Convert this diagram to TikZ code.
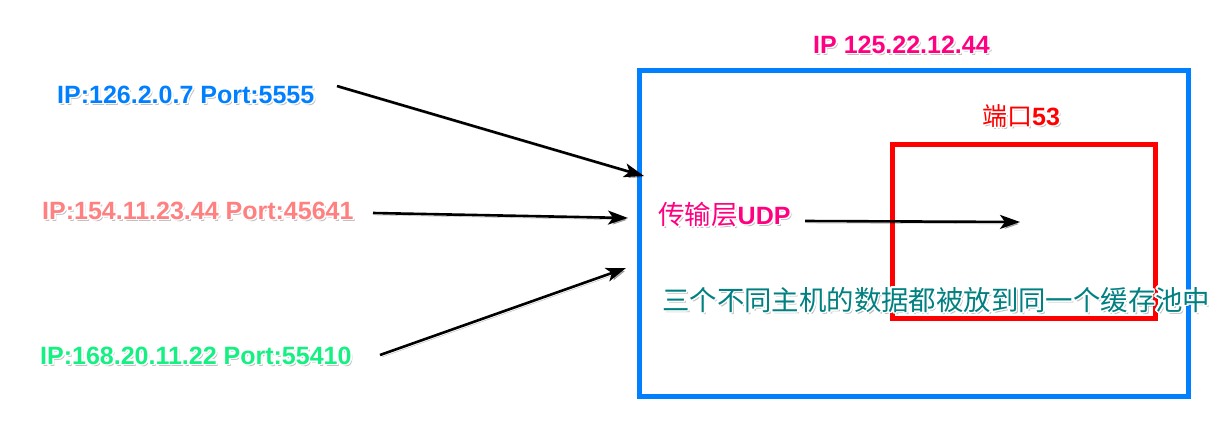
\documentclass[tikz,border=0pt]{standalone}
\usepackage{fontspec}
\setmainfont{Liberation Sans}
\newfontfamily\cjk{Noto Sans CJK SC}
\usepackage{contour}
\contourlength{1.8pt}
\contournumber{24}
\usetikzlibrary{arrows.meta}
\definecolor{cblue}{RGB}{0,128,255}
\definecolor{csalmon}{RGB}{255,128,128}
\definecolor{cgreen}{RGB}{20,240,130}
\definecolor{cmagenta}{RGB}{255,0,128}
\definecolor{cred}{RGB}{255,0,0}
\definecolor{cteal}{RGB}{0,128,128}
\tikzset{
  txt/.style={inner sep=0pt, anchor=base west},
  shadowline/.style={preaction={draw=black, opacity=.3, transform canvas={shift={(2pt,-2pt)}}}},
  box/.style={line width=5pt, shadowline},
  conn/.style={line width=2.6pt, black, -{Stealth[length=20pt,width=14pt,inset=5pt]}, shadowline},
}
\newcommand{\halotext}[5]{%
  \node[txt, text=black!70, opacity=.35, xshift=2pt, yshift=-2pt] (#1-shadow) at #2 {#4#5};
  \node[txt, text=#3] (#1) at #2 {#4\contour{white}{#5}};
}
\begin{document}
\begin{tikzpicture}[x=1pt,y=-1pt]
\useasboundingbox (0,0) rectangle (1229,445);
% boxes
\draw[box, cred] (892,144) rectangle (1155,318);
\draw[box, cblue] (639,70) rectangle (1188,396);
% arrow end points
\coordinate (s1) at (337,86);
\coordinate (e1) at (644,176);
\coordinate (s2) at (373,213);
\coordinate (e2) at (628,218);
\coordinate (s3) at (380,355);
\coordinate (e3) at (626,268);
\coordinate (s4) at (805,221);
\coordinate (e4) at (1020,222);
\draw[conn] (s1) -- (e1);
\draw[conn] (s2) -- (e2);
\draw[conn] (s3) -- (e3);
\draw[conn] (s4) -- (e4);
% labels
\halotext{h1}{(57,103)}{cblue}{\fontsize{25}{25}\selectfont\bfseries}{IP:126.2.0.7 Port:5555}
\halotext{h2}{(42,219)}{csalmon}{\fontsize{25}{25}\selectfont\bfseries}{IP:154.11.23.44 Port:45641}
\halotext{h3}{(40,364)}{cgreen}{\fontsize{25}{25}\selectfont\bfseries}{IP:168.20.11.22 Port:55410}
\halotext{ip}{(813,53)}{cmagenta}{\fontsize{25}{25}\selectfont\bfseries}{IP 125.22.12.44}
\halotext{port}{(982,125)}{cred}{\fontsize{25}{25}\selectfont}{{\cjk 端口}\bfseries 53}
\halotext{udp}{(658,224)}{cmagenta}{\fontsize{25}{25}\selectfont}{{\cjk\fontsize{26.5}{26}\selectfont 传输层}\bfseries UDP}
\halotext{pool}{(662,310)}{cteal}{\cjk\fontsize{27.4}{27}\selectfont}{三个不同主机的数据都被放到同一个缓存池中}
\end{tikzpicture}
\end{document}
